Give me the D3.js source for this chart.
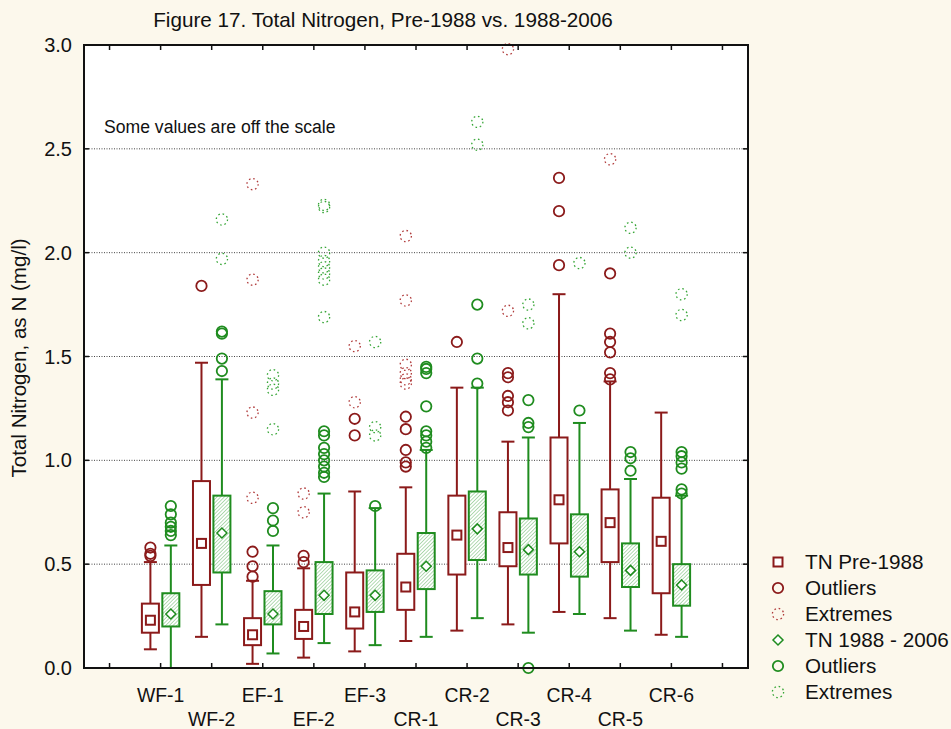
<!DOCTYPE html>
<html>
<head>
<meta charset="utf-8">
<title>Figure 17. Total Nitrogen, Pre-1988 vs. 1988-2006</title>
<script src="https://cdn.jsdelivr.net/npm/d3@7"></script>
<style>
  body { margin: 0; background: #fcf8ec; }
  text { font-family: "Liberation Sans", Arial, sans-serif; fill: #111; }
</style>
</head>
<body>
<div id="chart"></div>
<script>
// sites along the x axis
var sites = ["WF-1", "WF-2", "EF-1", "EF-2", "EF-3", "CR-1", "CR-2", "CR-3", "CR-4", "CR-5", "CR-6"];

// TN Pre-1988 (whisker low, box low, median, box high, whisker high)
var preLow  = [0.09, 0.15, 0.02, 0.05, 0.08, 0.13, 0.18, 0.21, 0.27, 0.24, 0.16];
var preQ1   = [0.17, 0.40, 0.11, 0.14, 0.19, 0.28, 0.45, 0.49, 0.60, 0.51, 0.36];
var preMed  = [0.23, 0.60, 0.16, 0.20, 0.27, 0.39, 0.64, 0.58, 0.81, 0.70, 0.61];
var preQ3   = [0.31, 0.90, 0.24, 0.28, 0.46, 0.55, 0.83, 0.75, 1.11, 0.86, 0.82];
var preHigh = [0.51, 1.47, 0.42, 0.48, 0.85, 0.87, 1.35, 1.09, 1.80, 1.38, 1.23];
var preOutliers = [[0.58, 0.55, 0.54], [1.84], [0.56, 0.49, 0.44], [0.54, 0.51], [1.20, 1.12],
  [1.21, 1.15, 1.05, 0.99, 0.97], [1.57], [1.42, 1.40, 1.31, 1.28, 1.24], [2.36, 2.20, 1.94],
  [1.90, 1.61, 1.57, 1.52, 1.42, 1.39], []];
var preExtremes = [[], [], [2.33, 1.87, 1.23, 0.82], [0.84, 0.75], [1.55, 1.28],
  [2.08, 1.77, 1.46, 1.42, 1.39, 1.37], [], [2.98, 1.72], [], [2.45], []];

// TN 1988 - 2006
var postLow  = [0.00, 0.21, 0.07, 0.12, 0.11, 0.15, 0.24, 0.17, 0.26, 0.18, 0.15];
var postQ1   = [0.20, 0.46, 0.21, 0.26, 0.27, 0.38, 0.52, 0.45, 0.44, 0.39, 0.30];
var postMed  = [0.26, 0.65, 0.26, 0.35, 0.35, 0.49, 0.67, 0.57, 0.56, 0.47, 0.40];
var postQ3   = [0.36, 0.83, 0.37, 0.51, 0.47, 0.65, 0.85, 0.72, 0.74, 0.60, 0.50];
var postHigh = [0.59, 1.39, 0.59, 0.84, 0.77, 1.05, 1.35, 1.11, 1.18, 0.91, 0.83];
var postOutliers = [[0.78, 0.74, 0.70, 0.68, 0.66, 0.64], [1.62, 1.61, 1.49, 1.43], [0.77, 0.71, 0.66],
  [1.14, 1.12, 1.06, 1.03, 1.00, 0.97, 0.94, 0.92], [0.78], [1.45, 1.44, 1.42, 1.26, 1.14, 1.12, 1.09, 1.06],
  [1.75, 1.49, 1.37], [1.29, 1.18, 1.16, 0.00], [1.24], [1.04, 1.01, 0.95], [1.04, 1.02, 0.99, 0.96, 0.86, 0.84]];
var postExtremes = [[], [2.16, 1.97], [1.41, 1.37, 1.34, 1.15], [2.23, 2.22, 2.00, 1.96, 1.93, 1.90, 1.87, 1.69],
  [1.57, 1.16, 1.12], [], [2.63, 2.52], [1.75, 1.66], [1.95], [2.12, 2.00], [1.80, 1.70]];

var yTicks = [0, 0.5, 1.0, 1.5, 2.0, 2.5, 3.0];
var gridValues = [0.5, 1.0, 1.5, 2.0, 2.5];
var legendLabels = ["TN Pre-1988", "Outliers", "Extremes", "TN 1988 - 2006", "Outliers", "Extremes"];

var W = 951, H = 729;
var red = "#8b1a1a", green = "#1f8c1f";
var redLight = "#b03a3a", greenLight = "#35a535";

var svg = d3.select("#chart").append("svg").attr("width", W).attr("height", H);

// hatch for the 1988-2006 boxes
var defs = svg.append("defs");
var pat = defs.append("pattern").attr("id", "hatch").attr("patternUnits", "userSpaceOnUse")
  .attr("width", 2.6).attr("height", 2.6).attr("patternTransform", "rotate(45)");
pat.append("rect").attr("width", 2.6).attr("height", 2.6).attr("fill", "#fff");
pat.append("line").attr("x1", 0).attr("y1", 0).attr("x2", 0).attr("y2", 2.6)
  .attr("stroke", "#6bb86b").attr("stroke-width", 1);

var pL = 84, pR = 748, pT = 45, pB = 668;
var x = d3.scaleLinear().domain([-0.5, 12.5]).range([pL, pR]);
var y = d3.scaleLinear().domain([0, 3]).range([pB, pT]);

// plot area
svg.append("rect").attr("x", pL).attr("y", pT).attr("width", pR - pL).attr("height", pB - pT)
  .attr("fill", "#fff");

// grid
svg.append("g").selectAll("line").data(gridValues).enter().append("line")
  .attr("x1", pL).attr("x2", pR).attr("y1", function (d) { return y(d); }).attr("y2", function (d) { return y(d); })
  .attr("stroke", "#444").attr("stroke-width", 1).attr("stroke-dasharray", "1,1.5");

// title and labels
svg.append("text").attr("x", 383).attr("y", 27).attr("text-anchor", "middle").style("font-size", "20.7px")
  .text("Figure 17. Total Nitrogen, Pre-1988 vs. 1988-2006");
svg.append("text").attr("transform", "translate(26,358) rotate(-90)").attr("text-anchor", "middle")
  .style("font-size", "20.6px").text("Total Nitrogen, as N (mg/l)");
svg.append("text").attr("x", 104).attr("y", 133).style("font-size", "17.6px").text("Some values are off the scale");

// y tick labels
svg.append("g").selectAll("text").data(yTicks).enter().append("text")
  .attr("x", 72).attr("y", function (d) { return y(d) + 7; }).attr("text-anchor", "end")
  .style("font-size", "20px").text(function (d) { return d3.format(".1f")(d); });

// x labels, staggered on two rows
svg.append("g").selectAll("text").data(sites).enter().append("text")
  .attr("x", function (d, i) { return x(i + 1); })
  .attr("y", function (d, i) { return i % 2 === 0 ? 702 : 726; })
  .attr("text-anchor", "middle").style("font-size", "19.4px").text(function (d) { return d; });

function drawSeries(low, q1, med, q3, high, outl, extr, dx, col, colLight, fill, marker) {
  var g = svg.append("g");
  var bw = 17, cap = 13;
  sites.forEach(function (s, i) {
    var cx = x(i + 1) + dx;
    g.append("line").attr("x1", cx).attr("x2", cx).attr("y1", y(low[i])).attr("y2", y(high[i]))
      .attr("stroke", col).attr("stroke-width", 2);
    [low[i], high[i]].forEach(function (v) {
      g.append("line").attr("x1", cx - cap / 2).attr("x2", cx + cap / 2).attr("y1", y(v)).attr("y2", y(v))
        .attr("stroke", col).attr("stroke-width", 2);
    });
    g.append("rect").attr("x", cx - bw / 2).attr("y", y(q3[i])).attr("width", bw).attr("height", y(q1[i]) - y(q3[i]))
      .attr("fill", fill).attr("stroke", col).attr("stroke-width", 2);
    marker(g, cx, y(med[i]), col);
    outl[i].forEach(function (v) {
      circleMark(g, cx, y(v), col);
    });
    extr[i].forEach(function (v) {
      extreme(g, cx, y(v), colLight);
    });
  });
}

function square(g, cx, cy, col) {
  g.append("rect").attr("x", cx - 4.5).attr("y", cy - 4.5).attr("width", 9).attr("height", 9)
    .attr("fill", "#fff").attr("stroke", col).attr("stroke-width", 2);
}
function diamond(g, cx, cy, col) {
  g.append("path").attr("d", "M" + cx + "," + (cy - 5) + "L" + (cx + 5) + "," + cy + "L" + cx + "," + (cy + 5) + "L" + (cx - 5) + "," + cy + "Z")
    .attr("fill", "#fff").attr("stroke", col).attr("stroke-width", 1.5);
}
// dotted ring used for extremes
function extreme(g, cx, cy, col) {
  g.append("circle").attr("cx", cx).attr("cy", cy).attr("r", 5.6)
    .attr("fill", "none").attr("stroke", col).attr("stroke-width", 1.3).attr("stroke-dasharray", "1.6,2.8");
}
function circleMark(g, cx, cy, col) {
  g.append("circle").attr("cx", cx).attr("cy", cy).attr("r", 5.2)
    .attr("fill", "none").attr("stroke", col).attr("stroke-width", 1.8);
}

var off = x(1.2) - x(1);
drawSeries(preLow, preQ1, preMed, preQ3, preHigh, preOutliers, preExtremes, -off, red, redLight, "#fff", square);
drawSeries(postLow, postQ1, postMed, postQ3, postHigh, postOutliers, postExtremes, off, green, greenLight, "url(#hatch)", diamond);

// frame and inward ticks
var axes = svg.append("g").attr("stroke", "#111");
d3.range(0, 13).forEach(function (t) {
  axes.append("line").attr("x1", x(t)).attr("x2", x(t)).attr("y1", pT).attr("y2", pT + 5).attr("stroke-width", 1.5);
  axes.append("line").attr("x1", x(t)).attr("x2", x(t)).attr("y1", pB).attr("y2", pB - 5).attr("stroke-width", 1.5);
});
yTicks.forEach(function (t) {
  axes.append("line").attr("x1", pL).attr("x2", pL + 5).attr("y1", y(t)).attr("y2", y(t)).attr("stroke-width", 1.5);
  axes.append("line").attr("x1", pR).attr("x2", pR - 5).attr("y1", y(t)).attr("y2", y(t)).attr("stroke-width", 1.5);
});
axes.append("rect").attr("x", pL).attr("y", pT).attr("width", pR - pL).attr("height", pB - pT)
  .attr("fill", "none").attr("stroke-width", 2);

// legend
var legendMarks = [
  function (g, cx, cy) { square(g, cx, cy, red); },
  function (g, cx, cy) { circleMark(g, cx, cy, red); },
  function (g, cx, cy) { extreme(g, cx, cy, redLight); },
  function (g, cx, cy) { diamond(g, cx, cy, green); },
  function (g, cx, cy) { circleMark(g, cx, cy, green); },
  function (g, cx, cy) { extreme(g, cx, cy, greenLight); }
];
var lg = svg.append("g");
legendLabels.forEach(function (lab, i) {
  var cy = 562 + i * 26;
  legendMarks[i](lg, 778, cy);
  lg.append("text").attr("x", 805).attr("y", cy + 7).style("font-size", "20.7px").text(lab);
});
</script>
</body>
</html>
